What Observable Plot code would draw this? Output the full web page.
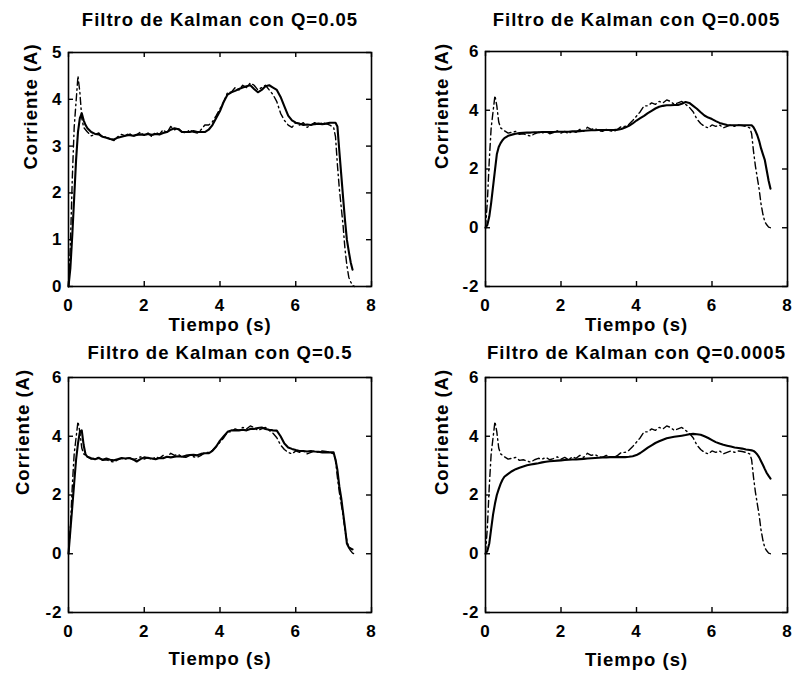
<!DOCTYPE html>
<html>
<head>
<meta charset="utf-8">
<script src="https://cdn.jsdelivr.net/npm/d3@7"></script>
<script src="https://cdn.jsdelivr.net/npm/@observablehq/plot@0.6"></script>
<style>
  body { margin: 0; background: #fff; }
  #fig { position: relative; width: 793px; height: 675px; background: #fff; overflow: hidden; }
  #fig svg { position: absolute; }
  #fig svg text { letter-spacing: 1px; }
</style>
</head>
<body>
<div id="fig"></div>
<script>
// ---- data ----
const tiempo = [
  0, 0.05, 0.1, 0.15, 0.2, 0.25, 0.3, 0.35, 0.4, 0.45, 0.5,
  0.6, 0.7, 0.8, 0.9, 1.0, 1.1, 1.2, 1.3, 1.4, 1.5, 1.6, 1.7, 1.8, 1.9, 2.0,
  2.1, 2.2, 2.3, 2.4, 2.5, 2.6, 2.7, 2.8, 2.9, 3.0,
  3.1, 3.2, 3.3, 3.4, 3.5, 3.6, 3.7, 3.8, 3.9, 4.0,
  4.1, 4.2, 4.3, 4.4, 4.5, 4.6, 4.7, 4.8, 4.9, 5.0,
  5.1, 5.2, 5.3, 5.4, 5.5, 5.6, 5.7, 5.8, 5.9, 6.0,
  6.1, 6.2, 6.3, 6.4, 6.5, 6.6, 6.7, 6.8, 6.9, 7.0,
  7.05, 7.1, 7.15, 7.2, 7.25, 7.3, 7.35, 7.4, 7.45, 7.5, 7.55
];
// measured current (dash-dot)
const medida = [
  0, 0.9, 2.3, 3.4, 3.95, 4.5, 4.15, 3.6, 3.4, 3.35, 3.3,
  3.22, 3.25, 3.28, 3.18, 3.2, 3.15, 3.12, 3.2, 3.25, 3.22, 3.28, 3.2, 3.24, 3.3, 3.22,
  3.28, 3.2, 3.3, 3.25, 3.35, 3.28, 3.42, 3.35, 3.38, 3.3,
  3.28, 3.35, 3.3, 3.28, 3.35, 3.45, 3.45, 3.52, 3.65, 3.8,
  3.95, 4.15, 4.15, 4.25, 4.2, 4.3, 4.25, 4.35, 4.3, 4.2,
  4.25, 4.3, 4.2, 4.1, 3.95, 3.7, 3.55, 3.45, 3.4, 3.5,
  3.45, 3.5, 3.4, 3.45, 3.5, 3.45, 3.5, 3.48, 3.45, 3.4,
  3.2, 2.6, 2.1, 1.7, 1.3, 0.8, 0.45, 0.2, 0.1, 0.02, 0
];
// Kalman estimates (solid)
const filtradoQ005 = [
  0, 0.4, 1.1, 1.9, 2.7, 3.3, 3.6, 3.7, 3.55, 3.45, 3.38,
  3.3, 3.26, 3.25, 3.2, 3.18, 3.15, 3.14, 3.18, 3.2, 3.22, 3.24, 3.22, 3.24, 3.25, 3.24,
  3.26, 3.24, 3.26, 3.25, 3.28, 3.3, 3.35, 3.38, 3.36, 3.3,
  3.3, 3.3, 3.32, 3.3, 3.3, 3.3, 3.35, 3.45, 3.6, 3.75,
  3.95, 4.1, 4.15, 4.18, 4.22, 4.25, 4.28, 4.3, 4.22, 4.15,
  4.2, 4.28, 4.3, 4.25, 4.2, 4.05, 3.85, 3.65, 3.55, 3.5,
  3.48, 3.45, 3.46, 3.45, 3.47, 3.48, 3.47, 3.48, 3.5, 3.5,
  3.5, 3.42, 2.9, 2.4, 1.9, 1.42, 1.0, 0.75, 0.52, 0.36, null
];
const filtradoQ0005 = [
  0, 0.1, 0.38, 0.85, 1.4, 1.95, 2.5, 2.75, 2.88, 2.98, 3.05,
  3.13, 3.17, 3.2, 3.22, 3.23, 3.24, 3.24, 3.25, 3.25, 3.26, 3.26, 3.26, 3.26, 3.27, 3.27,
  3.27, 3.27, 3.28, 3.28, 3.29, 3.3, 3.31, 3.32, 3.32, 3.33,
  3.33, 3.33, 3.33, 3.33, 3.34, 3.36, 3.41, 3.47, 3.55, 3.65,
  3.73, 3.81, 3.9, 3.98, 4.06, 4.12, 4.15, 4.17, 4.17, 4.18,
  4.18, 4.22, 4.28, 4.25, 4.15, 4.05, 3.93, 3.82, 3.75, 3.7,
  3.63, 3.57, 3.53, 3.5, 3.49, 3.49, 3.49, 3.49, 3.49, 3.49,
  3.49, 3.42, 3.3, 3.15, 2.95, 2.7, 2.5, 2.3, 1.95, 1.6, 1.33
];
const filtradoQ05 = [
  0, 0.8, 1.6, 2.4, 3.2, 3.75, 4.15, 4.2, 3.7, 3.38, 3.3,
  3.25, 3.22, 3.26, 3.2, 3.24, 3.2, 3.18, 3.22, 3.26, 3.24, 3.26, 3.22, 3.14, 3.22, 3.28,
  3.26, 3.24, 3.22, 3.26, 3.25, 3.3, 3.28, 3.3, 3.32, 3.3,
  3.34, 3.36, 3.37, 3.35, 3.4, 3.42, 3.42, 3.5, 3.65, 3.85,
  4.0, 4.15, 4.2, 4.2, 4.2, 4.22, 4.2, 4.25, 4.25, 4.28,
  4.3, 4.25, 4.22, 4.2, 4.19, 4.0, 3.75, 3.62, 3.57, 3.53,
  3.5, 3.5, 3.48, 3.5, 3.48, 3.47, 3.45, 3.46, 3.45, 3.45,
  3.2, 2.85, 2.3, 1.9, 1.4, 0.9, 0.35, 0.22, 0.18, 0.15, null
];
const filtradoQ00005 = [
  0, 0.1, 0.35, 0.85, 1.33, 1.7, 2.0, 2.2, 2.38, 2.52, 2.62,
  2.72, 2.81, 2.88, 2.93, 2.97, 3.01, 3.04, 3.06, 3.08, 3.11, 3.13, 3.15, 3.16, 3.17, 3.18,
  3.19, 3.2, 3.21, 3.21, 3.22, 3.23, 3.24, 3.25, 3.26, 3.27,
  3.28, 3.28, 3.29, 3.29, 3.29, 3.29, 3.29, 3.3, 3.32, 3.36,
  3.43, 3.52, 3.61, 3.69, 3.77, 3.83, 3.88, 3.93, 3.96, 3.98,
  4.0, 4.02, 4.04, 4.07, 4.08, 4.07, 4.05, 4.0, 3.94, 3.87,
  3.8, 3.75, 3.71, 3.68, 3.65, 3.62, 3.6, 3.58, 3.55, 3.53,
  3.52, 3.5, 3.45, 3.38, 3.28, 3.15, 3.02, 2.88, 2.75, 2.65, 2.56
];
const titulos = [
  "Filtro de Kalman con Q=0.05",
  "Filtro de Kalman con Q=0.005",
  "Filtro de Kalman con Q=0.5",
  "Filtro de Kalman con Q=0.0005"
];
const etiquetaX = "Tiempo (s)";
const etiquetaY = "Corriente (A)";
const xTicks = [0, 2, 4, 6, 8];
const yTicksA = [0, 1, 2, 3, 4, 5];
const yTicksB = [-2, 0, 2, 4, 6];

// ---- layout ----
const panels = [
  {left: 0,   top: 0,   width: 396, height: 337, mL: 68, mR: 25, mT: 52, mB: 51,
   yDomain: [0, 5], yTicks: yTicksA, fil: filtradoQ005, title: titulos[0], tDy: -26.5, xDy: 44, yDx: -32},
  {left: 396, top: 0,   width: 397, height: 337, mL: 89, mR: 6,  mT: 51, mB: 51,
   yDomain: [-2, 6], yTicks: yTicksB, fil: filtradoQ0005, title: titulos[1], tDy: -26, xDy: 44, yDx: -38},
  {left: 0,   top: 337, width: 396, height: 338, mL: 68, mR: 25, mT: 40, mB: 63,
   yDomain: [-2, 6], yTicks: yTicksB, fil: filtradoQ05, title: titulos[2], tDy: -18.7, xDy: 52, yDx: -39.5},
  {left: 396, top: 337, width: 397, height: 338, mL: 89, mR: 6,  mT: 40, mB: 63,
   yDomain: [-2, 6], yTicks: yTicksB, fil: filtradoQ00005, title: titulos[3], tDy: -18.7, xDy: 53.5, yDx: -38}
];

const fig = document.getElementById("fig");
for (const p of panels) {
  const rows = tiempo.map((t, i) => ({t, med: medida[i], fil: p.fil[i]}));
  const fh = p.height - p.mT - p.mB;
  const fw = p.width - p.mL - p.mR;
  const svg = Plot.plot({
    width: p.width, height: p.height,
    marginLeft: p.mL, marginRight: p.mR, marginTop: p.mT, marginBottom: p.mB,
    x: {domain: [0, 8]},
    y: {domain: p.yDomain},
    style: {
      fontFamily: "'Liberation Sans', Arial, Helvetica, sans-serif",
      fontWeight: "bold", fontSize: "17px", color: "black",
      background: "transparent", overflow: "visible"
    },
    marks: [
      Plot.line(rows, {x: "t", y: "med", stroke: "black", strokeWidth: 1.4,
        strokeDasharray: "7,3.5,1.5,3.5"}),
      Plot.line(rows, {x: "t", y: "fil", stroke: "black", strokeWidth: 2.1}),
      Plot.frame({stroke: "black", strokeWidth: 1.6}),
      Plot.tickX(xTicks, {x: d => d, insetTop: fh - 5, stroke: "black", strokeWidth: 1.4}),
      Plot.tickX(xTicks, {x: d => d, insetBottom: fh - 5, stroke: "black", strokeWidth: 1.4}),
      Plot.tickY(p.yTicks, {y: d => d, insetRight: fw - 5, stroke: "black", strokeWidth: 1.4}),
      Plot.tickY(p.yTicks, {y: d => d, insetLeft: fw - 5, stroke: "black", strokeWidth: 1.4}),
      Plot.axisX(xTicks, {tickSize: 0, tickPadding: 12.5, fontSize: 17, label: null,
        tickFormat: d => String(d)}),
      Plot.axisY(p.yTicks, {tickSize: 0, tickPadding: 6, fontSize: 17, label: null,
        tickFormat: d => String(d)}),
      Plot.text([p.title], {text: d => d, frameAnchor: "top", lineAnchor: "bottom",
        dy: p.tDy, fontSize: 18.5}),
      Plot.text([etiquetaX], {text: d => d, frameAnchor: "bottom", lineAnchor: "bottom",
        dy: p.xDy, fontSize: 18.5}),
      Plot.text([etiquetaY], {text: d => d, frameAnchor: "left", lineAnchor: "bottom",
        rotate: -90, dx: p.yDx, fontSize: 18.5})
    ]
  });
  svg.style.left = p.left + "px";
  svg.style.top = p.top + "px";
  fig.appendChild(svg);
}
</script>
</body>
</html>
